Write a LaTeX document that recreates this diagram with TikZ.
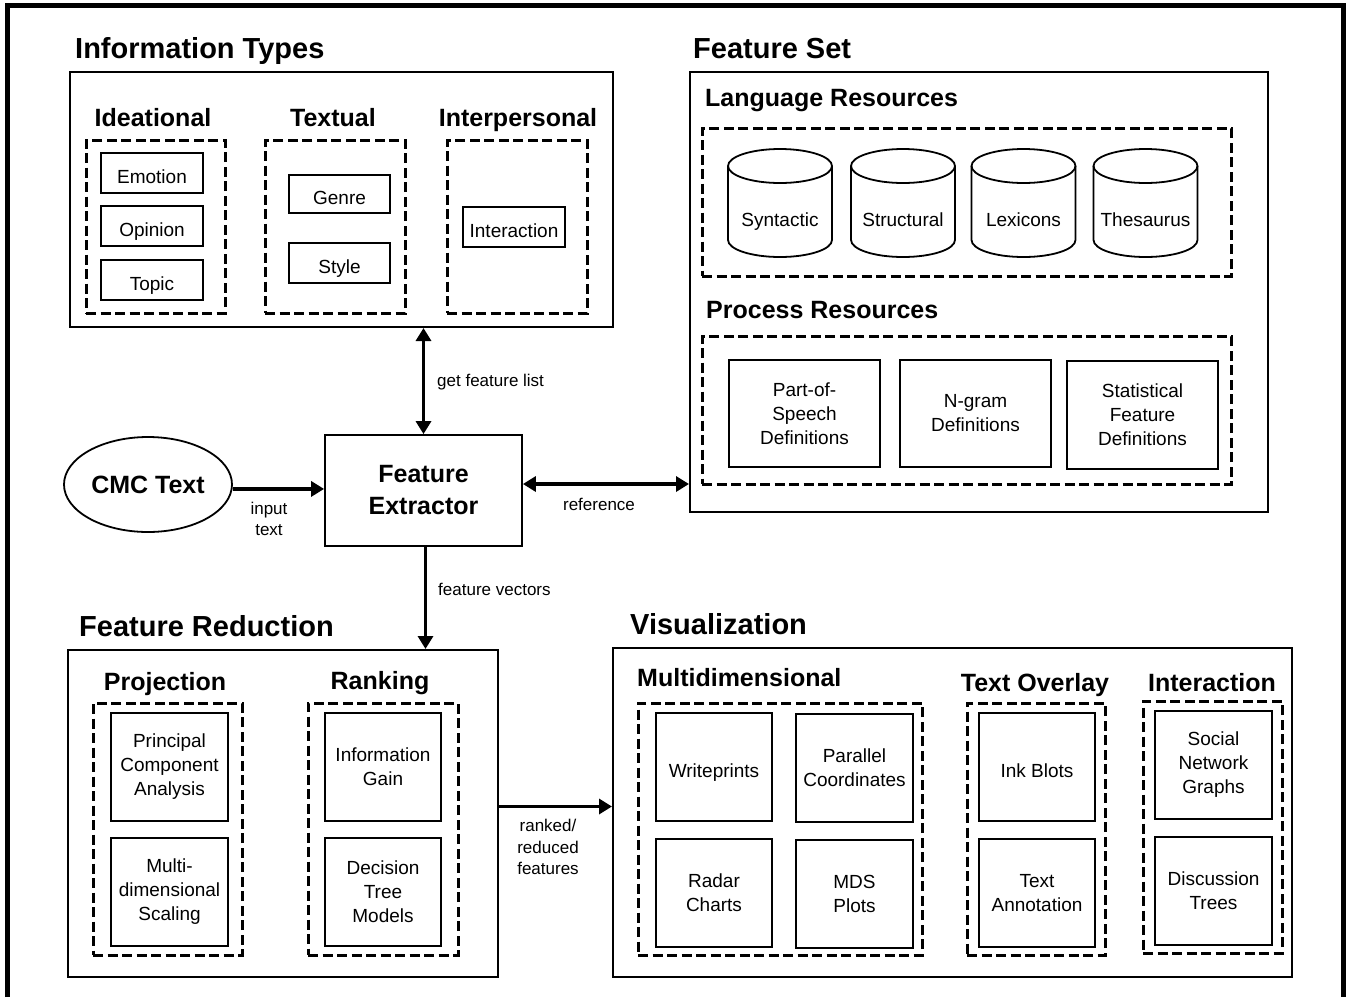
\documentclass[tikz,border=0pt]{standalone}
\usepackage{fontspec}
\setmainfont{Liberation Sans}
\usetikzlibrary{arrows.meta,shapes.geometric}
\newcommand{\fhead}{\fontsize{29}{34}\selectfont\bfseries}
\newcommand{\fsub}{\fontsize{25}{30}\selectfont\bfseries}
\newcommand{\ffe}{\fontsize{25}{32}\selectfont\bfseries}
\newcommand{\fbody}{\fontsize{19}{24}\selectfont}
\newcommand{\flab}{\fontsize{17}{21.5}\selectfont}
\newcommand{\mybox}[7][]{\node[#1, minimum width={(#5-#3)*1pt}, minimum height={(#6-#4)*1pt}] (#2) at ({(#3+#5)/2},{(#4+#6)/2}) {#7};}
\newcommand{\mycyl}[3]{%
  \draw[cyl] (#2-52,166) -- (#2-52,240) arc[start angle=180, end angle=360, x radius=52pt, y radius=17pt] -- (#2+52,166);
  \draw[cyl] (#2,166) ellipse [x radius=52pt, y radius=17pt];
  \node[font=\fbody, inner sep=0pt, anchor=base] (#1) at (#2,226) {#3};}
\tikzset{
  frame/.style={draw, line width=2pt, inner sep=0pt},
  grp/.style={draw, line width=3pt, dash pattern=on 10pt off 4.5pt, inner sep=0pt},
  bx/.style={draw, line width=1.8pt, inner sep=0pt, align=center, font=\fbody},
  one/.style={text height=20pt, text depth=0pt},
  cyl/.style={line width=1.8pt},
  head/.style={anchor=base west, inner sep=0pt, font=\fhead},
  sub/.style={anchor=base, inner sep=0pt, font=\fsub},
  subw/.style={anchor=base west, inner sep=0pt, font=\fsub},
  lab/.style={align=center, font=\flab, inner sep=0pt},
  arr/.style={line width=3.5pt, -{Triangle[length=13pt,width=15pt]}},
  darr/.style={line width=3.5pt, {Triangle[length=13pt,width=15pt]}-{Triangle[length=13pt,width=15pt]}}
}
\begin{document}
\begin{tikzpicture}[x=1pt,y=-1pt]
\useasboundingbox[fill=white] (0,0) rectangle (1350,997);
% outer frame
\draw[line width=5pt] (7.5,997) -- (7.5,5.5) -- (1343.5,5.5) -- (1343.5,997);

% Information Types
\mybox[frame]{it}{70}{72}{613}{327}{}
\node[head] (itT) at (75,58) {Information Types};
\mybox[grp]{gid}{86}{140}{225}{313}{}
\node[sub] (gidT) at (153,126) {Ideational};
\mybox[bx,one]{emo}{101}{153}{203}{193}{Emotion}
\mybox[bx,one]{opi}{101}{206}{203}{246}{Opinion}
\mybox[bx,one]{topic}{101}{260}{203}{300}{Topic}
\mybox[grp]{gtx}{265}{140}{405}{313}{}
\node[sub] (gtxT) at (333,126) {Textual};
\mybox[bx,one]{gen}{289}{175}{390}{213}{Genre}
\mybox[bx,one]{sty}{289}{243}{390}{283}{Style}
\mybox[grp]{gip}{447}{140}{587}{313}{}
\node[sub] (gipT) at (518,126) {Interpersonal};
\mybox[bx,one]{inter}{463}{207}{565}{247}{Interaction}

% Feature Set
\mybox[frame]{fs}{690}{72}{1268}{512}{}
\node[head] (fsT) at (693,58) {Feature Set};
\node[subw] (lrT) at (705,106) {Language Resources};
\mybox[grp]{glr}{702}{128}{1231}{276}{}
\mycyl{syn}{780}{Syntactic}
\mycyl{str}{903}{Structural}
\mycyl{lex}{1023.5}{Lexicons}
\mycyl{the}{1145.5}{Thesaurus}
\node[subw] (prT) at (706,318) {Process Resources};
\mybox[grp]{gpr}{702}{336}{1231}{484}{}
\mybox[bx]{pos}{729}{360}{880}{467}{Part-of-\\Speech\\Definitions}
\mybox[bx]{ngr}{900}{360}{1051}{467}{N-gram\\Definitions}
\mybox[bx]{stat}{1067}{361}{1218}{469}{Statistical\\Feature\\Definitions}

% Center
\node[draw, ellipse, line width=1.8pt, minimum width=168pt, minimum height=95pt, inner sep=0pt, font=\fsub] (cmc) at (148,484.5) {CMC Text};
\mybox[bx, font=\ffe]{fe}{325}{435}{522}{546}{Feature\\Extractor}

% Feature Reduction
\mybox[frame]{fr}{68}{650}{498}{977}{}
\node[head] (frT) at (79,636) {Feature Reduction};
\mybox[grp]{gpj}{93}{703}{242}{955}{}
\node[sub] (gpjT) at (165,690) {Projection};
\mybox[bx]{pca}{111}{713}{228}{821}{Principal\\Component\\Analysis}
\mybox[bx]{mds}{111}{838}{228}{946}{Multi-\\dimensional\\Scaling}
\mybox[grp]{grk}{308}{703}{458}{955}{}
\node[sub] (grkT) at (380,689) {Ranking};
\mybox[bx]{ig}{325}{713}{441}{821}{Information\\Gain}
\mybox[bx]{dt}{325}{838}{441}{946}{Decision\\Tree\\Models}

% Visualization
\mybox[frame]{vis}{613}{648}{1292}{977}{}
\node[head] (visT) at (630,634) {Visualization};
\node[subw] (gmdT) at (637,686) {Multidimensional};
\mybox[grp]{gmd}{638}{703}{922}{955}{}
\mybox[bx,one]{wp}{656}{713}{772}{821}{Writeprints}
\mybox[bx]{pc}{796}{714}{913}{822}{Parallel\\Coordinates}
\mybox[bx]{rc}{656}{839}{772}{947}{Radar\\Charts}
\mybox[bx]{mdsp}{796}{840}{913}{948}{MDS\\Plots}
\node[sub] (gtoT) at (1035,691) {Text Overlay};
\mybox[grp]{gto}{967}{703}{1105}{955}{}
\mybox[bx,one]{ink}{979}{713}{1095}{821}{Ink Blots}
\mybox[bx]{ta}{979}{839}{1095}{947}{Text\\Annotation}
\node[sub] (ginT) at (1212,691) {Interaction};
\mybox[grp]{gin}{1143}{701}{1282}{953}{}
\mybox[bx]{sng}{1155}{711}{1272}{819}{Social\\Network\\Graphs}
\mybox[bx]{dtr}{1155}{837}{1272}{945}{Discussion\\Trees}

% connectors
\draw[arr] (cmc.-3.5) -- (cmc.-3.5 -| fe.west);
\draw[darr] (fe.north) -- (fe.north |- it.south);
\draw[darr] ([yshift=6.5pt]fe.east) coordinate (r1) -- (r1 -| fs.west);
\draw[arr] ([xshift=2pt]fe.south) coordinate (d1) -- (d1 |- fr.north);
\draw[arr] ([yshift=7pt]fr.east) coordinate (d2) -- (d2 -| vis.west);

% labels
\node[lab] (l1) at (269,519) {input\\text};
\node[lab, anchor=west] (l2) at (437,382) {get feature list};
\node[lab] (l3) at (599,504) {reference};
\node[lab, anchor=west] (l4) at (438,589) {feature vectors};
\node[lab] (l5) at (548,847) {ranked/\\reduced\\features};
\end{tikzpicture}
\end{document}
